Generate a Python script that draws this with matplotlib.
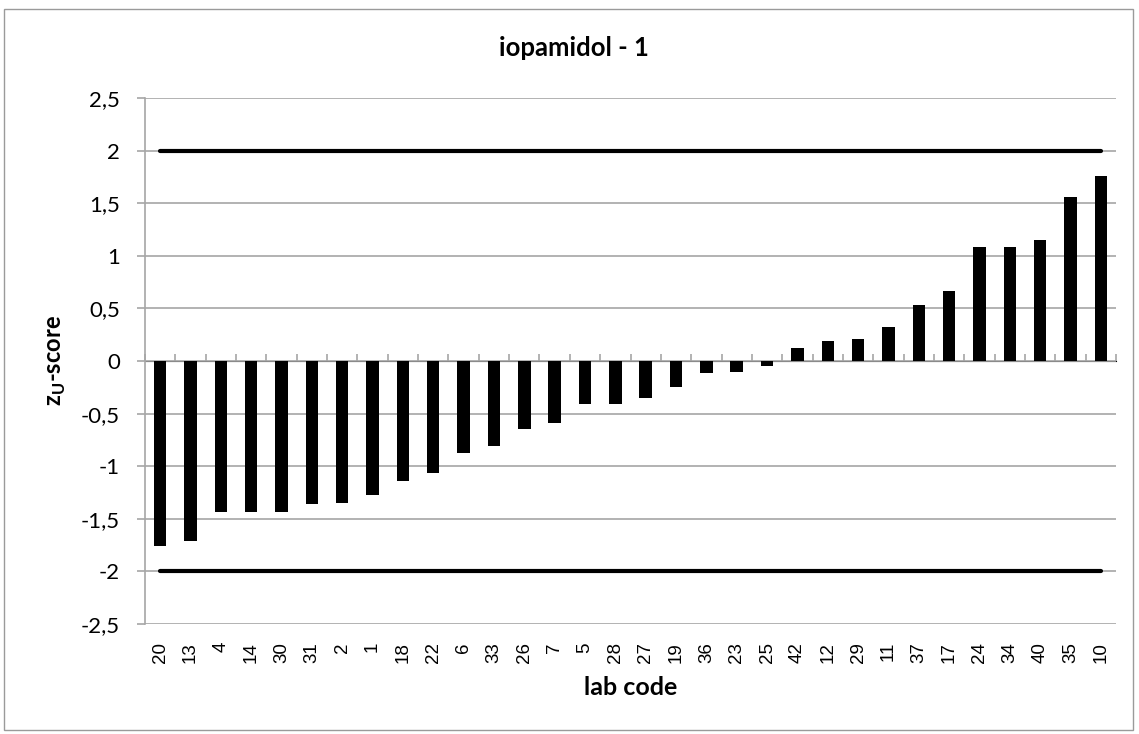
import matplotlib
matplotlib.use('Agg')
import matplotlib.pyplot as plt
from matplotlib.ticker import FuncFormatter, MultipleLocator
from matplotlib.patches import Rectangle
import numpy as np

# lab codes, sorted by z-score
labs = ['20', '13', '4', '14', '30', '31', '2', '1', '18', '22', '6', '33', '26', '7',
        '5', '28', '27', '19', '36', '23', '25', '42', '12', '29', '11', '37', '17',
        '24', '34', '40', '35', '10']
zscores = [-1.76, -1.715, -1.44, -1.44, -1.44, -1.36, -1.35, -1.277, -1.145, -1.065,
           -0.87, -0.81, -0.645, -0.59, -0.405, -0.405, -0.35, -0.25, -0.11, -0.10,
           -0.05, 0.124, 0.193, 0.206, 0.326, 0.535, 0.668, 1.08, 1.08, 1.146, 1.555, 1.76]
limit_hi = 2
limit_lo = -2

plt.rcParams['font.family'] = ['Lato', 'DejaVu Sans']
plt.rcParams['mathtext.fontset'] = 'custom'
plt.rcParams['mathtext.bf'] = 'Lato:bold'
plt.rcParams['mathtext.rm'] = 'Lato'

grid_col = '#a6a6a6'

fig = plt.figure(figsize=(11.39, 7.34), dpi=100)
ax = fig.add_axes([145/1139, 1-624/734, (1116-145)/1139, (624-98)/734])

x = np.arange(len(labs))
ax.bar(x, zscores, width=0.41, color='black', zorder=3)

# warning limits
ax.plot([x[0], x[-1]], [limit_hi, limit_hi], color='black', lw=3, solid_capstyle='round', zorder=4)
ax.plot([x[0], x[-1]], [limit_lo, limit_lo], color='black', lw=3, solid_capstyle='round', zorder=4)

ax.set_xlim(-0.5, len(labs) - 0.5)
ax.set_ylim(-2.5, 2.5)
ax.yaxis.set_major_locator(MultipleLocator(0.5))
ax.yaxis.set_major_formatter(FuncFormatter(lambda v, p: '{:g}'.format(v).replace('.', ',')))
ax.grid(axis='y', color=grid_col, lw=1.2, zorder=0)
ax.set_axisbelow(True)

for s in ['top', 'right', 'bottom']:
    ax.spines[s].set_visible(False)
ax.spines['left'].set_color(grid_col)
ax.spines['left'].set_linewidth(1.2)
ax.tick_params(axis='y', length=6, color=grid_col, width=1.2, labelsize=16, pad=12)

ax.set_xticks(x)
ax.set_xticklabels(labs, rotation=90, family='Liberation Sans', fontsize=13.5)
ax.tick_params(axis='x', length=0, pad=13)

# category axis crossing at zero, with ticks between categories
sec = ax.secondary_xaxis(0.5)
sec.set_xticks(np.arange(len(labs) + 1) - 0.5)
sec.set_xticklabels([])
sec.tick_params(axis='x', direction='out', length=5, color=grid_col, width=1.2)
sec.spines['bottom'].set_color(grid_col)
sec.spines['bottom'].set_linewidth(1.2)

ax.set_title('iopamidol - 1', fontsize=18.5, fontweight='bold', x=(574-145)/971, y=1.0, pad=30)
ax.set_ylabel(r'z$_\mathbf{U}$-score', fontsize=17, fontweight='bold', labelpad=9)
ax.set_xlabel('lab code', fontsize=18, fontweight='bold', labelpad=9)

fig.patches.append(Rectangle((4/1139, 4/734), 1129/1139, 721/734, transform=fig.transFigure,
                             fill=False, edgecolor='#9a9a9a', lw=1))

fig.savefig('out.png', dpi=100)
